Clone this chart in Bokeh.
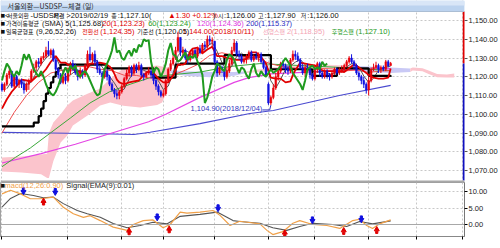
from bokeh.plotting import figure
from bokeh.models import Range1d, FixedTicker, NumeralTickFormatter, Label, Span, Grid
from bokeh.layouts import column
from bokeh.embed import file_html
from bokeh.resources import INLINE

# ---------------- data (trading-day index: 0 = 2018/06/25, 159 = 2019/02/19) ----------------
opens = [1116,1113,1116,1121,1123, 1115,1120,1116,1118,1116, 1113,1116,1118,1123,1125,
         1128,1127,1130,1131,1134, 1132,1134,1129,1124,1121, 1117,1120,
         1118,1123,1127,1125,1122, 1120,1123,1121,1126,1132, 1129,1132,1128,1124,1122,
         1120,1123,1120,1116,1113, 1111,1110,
         1112,1115,1119,1122,1125, 1122,1126,1124,1126,1121, 1120,1122,1123,1121,1118, 1115,1112,
         1110,1111,1118,1124,1127, 1130,1134,1141,1133,1134, 1130,1129,1132,1134,1131,
         1135,1133,1137,1136,1140, 1139,
         1139,1128,1122,1125,1124, 1120,1123,1127,1134,1138, 1132,1131,1128,1129,1131,
         1133,1129,1131,1130,1132, 1128,1125,
         1116,1106,1109,1114,1120, 1123,1127,1126,1124,1123, 1129,1132,1131,1129,1125,
         1122,1125,1124,1121,
         1119,1124,1127,1122,1120, 1123,1121,1120,1122,1124, 1122,1123,1124,1126,1128,
         1130,1128,1126,1122,1120, 1118,1116,
         1113,1118,1124,1125,1126, 1124,1125,1124,1128,1126]
closes = [1113,1116,1121,1123,1115, 1120,1116,1118,1116,1113, 1116,1118,1123,1125,1128,
          1127,1130,1131,1134,1132, 1134,1129,1124,1121,1117, 1120,1118,
          1123,1127,1125,1122,1120, 1123,1121,1126,1132,1129, 1132,1128,1124,1122,1120,
          1123,1120,1116,1113,1111, 1110,1112,
          1115,1119,1122,1125,1122, 1126,1124,1126,1121,1120, 1122,1123,1121,1118,1115, 1112,1110,
          1111,1118,1124,1127,1130, 1134,1141,1133,1134,1130, 1129,1132,1134,1131,1135,
          1133,1137,1136,1140,1139, 1139.5,
          1128,1122,1125,1124,1120, 1123,1127,1134,1138,1132, 1131,1128,1129,1131,1133,
          1129,1131,1130,1132,1128, 1125,1121,
          1106,1109,1114,1120,1123, 1127,1126,1124,1123,1129, 1132,1131,1129,1125,1122,
          1125,1124,1121,1119,
          1124,1127,1122,1120,1123, 1121,1120,1122,1124,1122, 1123,1124,1126,1128,1130,
          1128,1126,1122,1120,1118, 1116,1113,
          1118,1124,1125,1126,1124, 1125,1124,1128,1125.8,1127.1]
highs = [1117,1117,1122,1125,1123, 1121,1121,1119,1119,1118, 1117,1119,1124,1127,1129,
         1130,1131,1133,1136,1139, 1135,1135,1130,1125,1122, 1121,1122,
         1125,1128,1129,1127,1124, 1125,1124,1127,1134,1136, 1133,1134,1129,1126,1123,
         1124,1124,1121,1117,1114, 1113,1113,
         1116,1120,1124,1126,1126, 1127,1127,1128,1127,1122, 1123,1125,1124,1122,1119, 1116,1113,
         1113,1119,1125,1129,1132, 1136,1144,1141,1136,1135, 1132,1133,1135,1135,1136,
         1137,1138,1139,1142,1142, 1141,
         1139,1129,1126,1126,1125, 1125,1129,1136,1140,1139, 1134,1132,1131,1132,1134,
         1134,1132,1133,1133,1133, 1129,1126,
         1117,1110,1116,1122,1124, 1128,1129,1127,1126,1130, 1134,1134,1133,1130,1127,
         1126,1127,1125,1122,
         1126,1128,1128,1123,1124, 1124,1122,1123,1125,1125, 1125,1126,1127,1129,1131,
         1132,1129,1127,1123,1121, 1120,1117,
         1120,1125,1127,1128,1127, 1126,1126,1129,1129,1127.9]
lows = [1112,1112,1115,1119,1114, 1114,1115,1114,1114,1111, 1112,1113,1117,1122,1123,
        1125,1126,1129,1130,1131, 1130,1128,1123,1119,1116, 1116,1116,
        1117,1121,1123,1121,1118, 1119,1119,1120,1125,1128, 1127,1126,1122,1121,1118,
        1119,1118,1115,1112,1109, 1108,1108,
        1111,1114,1118,1120,1120, 1121,1122,1123,1120,1118, 1119,1121,1119,1116,1113, 1110,1109,
        1109,1110,1117,1123,1126, 1129,1133,1131,1131,1129, 1127,1128,1130,1130,1130,
        1132,1132,1134,1135,1137, 1136,
        1127,1120,1121,1122,1118, 1119,1122,1126,1133,1131, 1129,1127,1127,1127,1129,
        1128,1128,1129,1128,1127, 1124,1120,
        1105,1104.9,1108,1113,1118, 1122,1124,1122,1121,1122, 1128,1129,1128,1124,1121,
        1120,1123,1119,1118,
        1118,1122,1120,1119,1119, 1119,1118,1119,1121,1121, 1121,1122,1123,1125,1127,
        1127,1124,1121,1118,1116, 1114,1111,
        1110,1117,1123,1124,1122, 1122,1123,1123,1125,1126]

sma5_idx = list(range(2, 159, 2)) + [159]
sma5 = [1113.6,1117.6,1119,1117,1115.8,1117.2,1122,1126.6,1130,1132.2,1130.6,1125,1120,1121,1123,
        1123.4,1122.4,1126.2,1129.4,1127,1123.4,1120.2,1116.6,1112.4,1113.4,1118.6,1122.8,1124.6,
        1123.4,1122.4,1120.8,1117.8,1113.2,1115,1122,1131.2,1134.4,1133.4,1131.8,1132.2,1134,
        1136.2,1138.2,1133.6,1127.6,1122.8,1125.6,1130.8,1132.6,1130.2,1130,1130.8,1130,1127.2,
        1117.8,1114,1118.6,1124,1125.8,1127.8,1129.2,1126.4,1123.4,1122.6,1122.6,1123.2,1121.2,
        1122,1122.2,1123.8,1126.2,1127.6,1125.2,1120.4,1117,1119.2,1123.4,1124.8,1125.4,1125.68]
sma20_idx = list(range(0, 156, 5)) + [159]
sma20 = [1090,1101,1110,1117,1122,1123.6,1125.4,1125.5,1124.1,1123.2,1120.8,1120.7,1119.5,1119,
         1120.9,1123.5,1126.5,1131.4,1132.8,1131.3,1130.8,1129.3,1126.9,1125.3,1124.6,1123.1,
         1124.4,1124.2,1123.1,1123.6,1122.3,1123.1,1123.23]
sma60_idx = [0,5.5,11.6,19.8,28,36,44,52.4,60.6,68.8,81,93.3,105.5,121.8,138,159]
sma60 = [1072,1077,1082,1090,1098,1106,1112,1116,1119.5,1121,1122.5,1125.5,1127,1126,1125,1123.24]
sma120_idx = [0,16,30,45,60,67,81,95,101,110,125,140,159]
sma120 = [1074,1079,1084,1090,1096,1100,1109,1117,1119.5,1121.5,1122.5,1123.5,1124.36]
sma200_idx = [0,20,40,54,60.6,81,101.4,111,138,159]
sma200 = [1090.3,1090,1089.6,1089.2,1090.4,1095,1100.4,1102,1110,1115.37]

tenkan_idx = [0,2,4,6,8,10,12,14,16,18,20,22,24,26,28,30,32,34,36,38,40,42,44,45,46,47,48,
              50,52,54,56,58,60,62,64,66,68,70,72,74,75,76,77,78,
              80,82,84,86,88,90,92,94,96,98,100,102,104,106,108,110,112,114,116,118,119,
              120,122,124,126,128,130,132,134,136,138,140,142,144,146,148,150,152,154,156,158,159]
tenkan = [1103,1108,1112,1115,1118.5,1118,1117.5,1120,1121,1124,1128,1131,1127.5,1127.5,1125.5,
          1123,1122.5,1122.5,1127,1127,1127.5,1127,1125.5,1124,1121.5,1118.5,1117,
          1116,1117,1117.5,1118,1121,1123,1122,1119,1117,1117,1120.5,1126.5,1126.5,1127,1130.5,
          1133.5,1135,1135.5,1132.5,1134.5,1136,1131,1131,1130,1129.5,1129,1129,1129.5,1133,1133,
          1130.5,1127,1119.5,1119,1119,1117,1117.5,1121,1123.5,1127.5,1127,1126.5,1126,1124,1123,
          1123,1123,1123,1122.5,1124.5,1126.5,1125,1123,1121,1119.5,1119,1119,1119.5,1124.35]
kijun_idx = [0,13,15,16,17,18,19,20,21,22,23,24,43,62,71,73,91,110,127,137,150,159]
kijun = [1093.5,1095.5,1099,1103,1107,1111,1114,1117,1120,1122.5,1124.5,1126.5,1124.5,1119.5,
         1126.5,1127,1131.5,1124,1120.5,1124.5,1120.5,1120.05]
LAG = 26

# Ichimoku cloud (pink: span1 above span2, lavender: below)
pink1_idx = [0,8,16,18.5,19.2,21,24,26.7,29,35,40.2,44.3,49.6,56.5,63.5,65.5,67.5,69]
pink1_hi = [1077,1077.5,1078.5,1079,1090,1095.6,1100,1104.7,1107.3,1111,1113.7,1119,1124.4,
            1124.9,1126,1125.5,1124.9,1123.5]
pink1_lo = [1069.5,1069,1068,1066,1066,1075,1085,1088.7,1094,1099.3,1104.7,1106.3,1104.5,
            1103.6,1105,1106.3,1112,1122]
lav1_idx = [69,75,85,95,100]
lav1_hi = [1123.5,1123,1122.5,1122.5,1123]
lav1_lo = [1122,1120.5,1119.8,1120.5,1122]
pink2_idx = [100,110,120,130,142]
pink2_hi = [1123,1125,1126,1126.5,1126]
pink2_lo = [1122,1123,1124,1124.5,1124]
lav2_idx = [142,150,159,167]
lav2_hi = [1126,1125.5,1125,1124.4]
lav2_lo = [1124,1122.5,1122,1122.5]
pink3_idx = [167,168,172,174.5,178,182,185]
pink3_hi = [1124.4,1125,1124.5,1123.3,1121.5,1121.2,1121.7]
pink3_lo = [1122.5,1123.3,1123,1121.5,1119.8,1119.6,1119.6]

macd_idx = [0,3.5,7.6,11.6,15.7,21,25.1,29.2,33.3,36.1,40.2,45.5,51.2,53.7,57.8,61.8,65.9,68.8,
            72.9,75.7,81,86.3,89.2,93.3,97.3,105.5,108.4,110.8,114.9,119,121.8,127.1,132.9,138.2,
            143.5,146.3,149.2,151.6,154.5,159]
macd = [9.4,10.5,9.4,7.9,7.9,8.4,5.3,3.3,2.2,2.7,1.2,-0.8,-1.8,0,1.2,1.4,-1,0,3.8,3.5,3.8,4.3,
        2.8,-0.3,1.0,0.2,-1.8,-3.1,-2.2,0.4,1.2,0,-0.3,-1.2,1.2,1.6,-0.3,-1.2,0.2,1.4]
signal_idx = [0,3.5,7.6,12.9,16.9,21,25.1,30.8,34.9,40.2,45.5,51.2,56.5,61.8,67.6,72.9,81,88,
              94.5,97.3,105.5,110.8,116.5,121.8,127.1,135.3,141,146.3,151.6,159]
signal = [5.3,8,9.5,8.9,8.2,8.4,6.4,4.3,3.3,2.2,0.3,-1,-0.3,0.7,0.2,2.5,3.1,3.8,1.2,0.9,0.4,
          -1,-1.8,-0.6,0.4,0,-0.6,0.9,0.2,1.1]
sell_idx = [8.8,21.8,63.5,88.4,127,147]
sell_val = [10.0,9.8,2.0,4.8,1.1,1.4]
buy_idx = [17,52,68.4,115.7,139.8,153.3]
buy_val = [7.2,-1.9,-1.3,-2.5,-1.8,-1.5]

price_ticks = [1070,1080,1090,1100,1110,1120,1130,1140,1150]
macd_ticks = [0,5,10]
date_idx = [0,27,49,66,87,109,128,150,169.5,188.4]
date_labels = ["2018/06/25","08/01","09/03","10/01","11/01","12/03","2019","02/01","03/01","2019/03/18"]

# legend rows: (pixel x, row, text, colour, korean?)
legend = [
    (0, 0, "■<", "#111111", False), (6.5, 0, "서울외환", "#111111", True),
    (30, 0, "-USDSP-", "#111111", False), (53, 0, "체결", "#111111", True),
    (66, 0, ">2019/02/19", "#111111", False), (111, 0, "종", "#111111", True),
    (117.5, 0, ":1,127.10(", "#111111", False), (168, 0, "▲1.30 +0.12%", "#e00000", False),
    (213, 0, ")", "#111111", False), (218, 0, "시", "#111111", True),
    (224, 0, ":1,126.00", "#111111", False), (258, 0, "고", "#111111", True),
    (264.5, 0, ":1,127.90", "#111111", False), (301, 0, "저", "#111111", True),
    (307.5, 0, ":1,126.00", "#111111", False),
    (0, 1, "■", "#111111", False), (5.5, 1, "가격이동평균", "#111111", True),
    (41.5, 1, "(SMA) 5(1,125.68)", "#111111", False), (102, 1, "20(1,123.23)", "#e00000", False),
    (148, 1, "60(1,123.24)", "#229922", False), (197, 1, "120(1,124.36)", "#dd33dd", False),
    (246, 1, "200(1,115.37)", "#2a2ac0", False),
    (0, 2, "■", "#111111", False), (5.5, 2, "일목균형표", "#111111", True),
    (35.5, 2, "(9,26,52,26)", "#111111", False), (82, 2, "전환선", "#e00000", True),
    (100, 2, "(1,124.35)", "#e00000", False), (137, 2, "기준선", "#111111", True),
    (155, 2, "(1,120.05)", "#111111", False), (263, 2, "선행스팬", "#f4a3b4", True),
    (287, 2, "2(1,118.95)", "#f4a3b4", False), (332, 2, "후행스팬", "#229922", True),
    (356, 2, "(1,127.10)", "#229922", False),
]
legend_rows = [1152.6, 1148.5, 1144.4]
window_title = "서울외환—USDSP—체결 (일)"

# ---------------- styling ----------------
FONT = "'Liberation Sans', 'Noto Sans CJK KR', 'DejaVu Sans', sans-serif"
KFONT = "'Noto Sans CJK KR', sans-serif"
UP, DOWN = "#e8000b", "#1010e0"
X0, X1 = -0.6, 189.2
PX = 465 / (X1 - X0)          # pixels per trading day
xr = Range1d(X0, X1)

# main pane: 1,150 sits 20 px below the top, 1.875 px per won
PPW = 1.875
Y_TOP = 1150 + 20 / PPW          # top of the window (title bar)
Y_BAR = 1150 - (11 - 20) / PPW   # bottom of the title bar (top of the chart)
Y_BOT = 1150 - 160 / PPW         # bottom of the chart area
Y_SEP = 1150 - 162 / PPW         # bottom of the pane separator


def px2x(px):
    return X0 + px / PX


def py2y(py):
    return 1150 - (py - 20) / PPW


p1 = figure(width=500, height=182, x_range=xr, y_range=Range1d(Y_SEP, Y_TOP),
            output_backend="svg", toolbar_location=None, x_axis_location=None,
            y_axis_location="right", min_border_left=0, min_border_right=35,
            min_border_top=0, min_border_bottom=0, outline_line_color=None)
p1.yaxis.ticker = FixedTicker(ticks=price_ticks)
p1.yaxis.formatter = NumeralTickFormatter(format="0,0.00")
p1.yaxis.axis_line_color = None
p1.yaxis.major_tick_out = 3
p1.yaxis.major_tick_in = 0
p1.yaxis.major_tick_line_color = "#555555"
p1.yaxis.minor_tick_line_color = None
p1.yaxis.major_label_standoff = 1
p1.yaxis.major_label_text_font = FONT
p1.yaxis.major_label_text_font_size = "7.5px"
p1.yaxis.major_label_text_color = "#222222"
p1.grid.visible = False
p1.add_layout(Grid(dimension=1, ticker=FixedTicker(ticks=price_ticks),
                   grid_line_color="#c8c8c8", grid_line_dash="2 2"))
p1.add_layout(Grid(dimension=0, ticker=FixedTicker(ticks=date_idx),
                   grid_line_color="#c8c8c8", grid_line_dash="2 2"))

# cloud
for ix, lo, hi, col in [(pink1_idx, pink1_lo, pink1_hi, "#fbc4cc"),
                        (lav1_idx, lav1_lo, lav1_hi, "#c9c9f5"),
                        (pink2_idx, pink2_lo, pink2_hi, "#fbd0d6"),
                        (lav2_idx, lav2_lo, lav2_hi, "#c9c9f5"),
                        (pink3_idx, pink3_lo, pink3_hi, "#fbc4cc")]:
    p1.varea(x=ix, y1=lo, y2=hi, fill_color=col)

# moving averages
p1.line(sma200_idx, sma200, line_color="#4b4bd0", line_width=1.2)
p1.line(sma120_idx, sma120, line_color="#e445e4", line_width=1.2)
p1.line(sma60_idx, sma60, line_color="#3aa83a", line_width=1)
p1.line(sma20_idx, sma20, line_color="#f05050", line_width=1)
p1.line(sma5_idx, sma5, line_color="#555555", line_width=1)

# ichimoku lines
p1.step(kijun_idx, kijun, mode="after", line_color="#000000", line_width=2.2)
p1.line(tenkan_idx, tenkan, line_color="#e00000", line_width=1.8)

# candles
idx = list(range(len(closes)))
ccol = [UP if c >= o else DOWN for o, c in zip(opens, closes)]
p1.segment(x0=idx, y0=lows, x1=idx, y1=highs, line_color=ccol, line_width=1)
p1.vbar(x=idx, width=0.7, top=opens, bottom=closes, fill_color=ccol, line_color=ccol, line_width=0.5)

# lagging span (closes shifted back 26 periods)
p1.line(idx[:len(closes) - LAG], closes[LAG:], line_color="#1f9a1f", line_width=2)

# high / low markers
hi_i = highs.index(max(highs))
lo_i = lows.index(min(lows))
p1.add_layout(Label(x=hi_i + 2, y=max(highs), text="1,144.00(2018/10/11)", text_color="#e00000",
                    text_font=FONT, text_font_size="7.5px", text_baseline="middle"))
p1.line([lo_i - 3.5, lo_i - 0.5, lo_i], [min(lows) - 2.6, min(lows) - 2.6, min(lows)],
        line_color="#3030c0", line_width=1)
p1.add_layout(Label(x=lo_i - 3.5, y=min(lows) - 1.6, text="1,104.90(2018/12/04)", text_color="#3030c0",
                    text_font=FONT, text_font_size="7.5px", text_baseline="middle", text_align="right"))

# coloured price-axis line and last-price box
last = closes[-1]
p1.segment(x0=[X1 - 0.2, X1 - 0.2], y0=[last, last], x1=[X1 - 0.2, X1 - 0.2], y1=[Y_BAR, Y_BOT],
           line_color=["#e00000", "#1010c0"], line_width=2.5)
p1.add_layout(Label(x=X1, y=last, x_offset=2, text="1,127.10\n+0.12%", text_color="white",
                    background_fill_color="#e01010", text_font=FONT, text_font_size="7.5px",
                    text_baseline="middle", text_align="left", text_line_height=1.05))
p1.add_layout(Label(x=X1, y=py2y(18.5), x_offset=20, text="□×", text_color="#555555",
                    text_font="'DejaVu Sans', sans-serif", text_font_size="7px", text_baseline="middle"))

# chart border line under the title bar and pane separator
p1.line([X0, X1], [Y_BAR, Y_BAR], line_color="#9aa8b8", line_width=1)
p1.quad(left=[X0], right=[X1], bottom=[Y_SEP], top=[Y_BOT], fill_color="#a8a8a8", line_color=None)

# title bar across the top of the window (drawn last among the glyphs so it sits on top)
p1.quad(left=[X0], right=[X1], bottom=[Y_BAR], top=[Y_TOP], fill_color="#bcd3ef", line_color=None)
p1.quad(left=[X0], right=[X1], bottom=[py2y(5)], top=[Y_TOP], fill_color="#d9e6f7", line_color=None)
p1.add_layout(Label(x=px2x(7), y=py2y(5.5), text=window_title, text_color="#2a2a2a", text_font=KFONT,
                    text_font_size="7px", text_baseline="middle"))
p1.add_layout(Label(x=X1, y=py2y(5.5), x_offset=0, text="      □ ×", text_color="#1a2a50",
                    background_fill_color="#c8dbf2", text_font="'DejaVu Sans Mono', monospace",
                    text_font_size="7.5px", text_font_style="bold", text_baseline="middle",
                    text_line_height=1.45))
p1.add_layout(Label(x=X1, y=Y_BOT, x_offset=0, text="         ", background_fill_color="#a8a8a8",
                    text_font="'DejaVu Sans Mono', monospace", text_font_size="7.5px",
                    text_baseline="top", text_line_height=0.25))

# legend texts
for px, row, t, c, kr in legend:
    p1.add_layout(Label(x=px2x(px), y=legend_rows[row], text=t, text_color=c,
                        text_font=KFONT if kr else FONT,
                        text_font_size="6px" if kr else "7.5px", text_baseline="middle"))

# ---------------- MACD panel ----------------
p2 = figure(width=500, height=66, x_range=xr, y_range=Range1d(-3.68, 12.88),
            output_backend="svg", toolbar_location=None, y_axis_location="right",
            min_border_left=0, min_border_right=35, min_border_top=0, min_border_bottom=12,
            outline_line_color="#a0a0a0")
p2.yaxis.ticker = FixedTicker(ticks=macd_ticks)
p2.yaxis.formatter = NumeralTickFormatter(format="0,0.00")
p2.yaxis.axis_line_color = "#777777"
p2.yaxis.major_tick_out = 3
p2.yaxis.major_tick_in = 0
p2.yaxis.minor_tick_line_color = None
p2.yaxis.major_label_standoff = 1
p2.yaxis.major_label_text_font = FONT
p2.yaxis.major_label_text_font_size = "7.5px"
p2.yaxis.major_label_text_color = "#222222"
p2.xaxis.ticker = FixedTicker(ticks=date_idx)
p2.xaxis.major_label_overrides = {t: "" for t in date_idx}
p2.xaxis.major_label_text_font_size = "0px"
p2.xaxis.major_tick_out = 3
p2.xaxis.major_tick_in = 0
p2.xaxis.minor_tick_line_color = None
p2.xaxis.axis_line_color = "#888888"
p2.grid.visible = False
p2.add_layout(Grid(dimension=1, ticker=FixedTicker(ticks=[5, 10]),
                   grid_line_color="#c8c8c8", grid_line_dash="2 2"))
p2.add_layout(Grid(dimension=0, ticker=FixedTicker(ticks=date_idx),
                   grid_line_color="#c8c8c8", grid_line_dash="2 2"))
p2.add_layout(Span(location=0, dimension="width", line_color="#a8a8a8", line_width=1))

p2.line(signal_idx, signal, line_color="#555555", line_width=1.1)
p2.line(macd_idx, macd, line_color="#f0a048", line_width=1.2)

p2.scatter(sell_idx, [v + 0.9 for v in sell_val], marker="square", size=2.2, color="#1010e0")
p2.scatter(sell_idx, sell_val, marker="inverted_triangle", size=5, color="#1010e0")
p2.scatter(buy_idx, [v - 0.9 for v in buy_val], marker="square", size=2.2, color="#e00000")
p2.scatter(buy_idx, buy_val, marker="triangle", size=5, color="#e00000")

p2.add_layout(Label(x=px2x(0), y=11.9, text="■", text_color="#111111", text_font=FONT,
                    text_font_size="7.5px", text_baseline="middle"))
p2.add_layout(Label(x=px2x(4), y=11.9, text="macd(12,26:0.90)", text_color="#f0a048", text_font=FONT,
                    text_font_size="7.5px", text_baseline="middle"))
p2.add_layout(Label(x=px2x(66), y=11.9, text="Signal(EMA(9):0.01)", text_color="#222222", text_font=FONT,
                    text_font_size="7.5px", text_baseline="middle"))
p2.add_layout(Label(x=X1, y=12.2, x_offset=21, text="□×", text_color="#555555",
                    text_font="'DejaVu Sans', sans-serif", text_font_size="7px", text_baseline="middle"))

for x, t in zip(date_idx, date_labels):
    p2.add_layout(Label(x=x + 0.3, y=-3.68, y_offset=-1.5, text=t, text_color="#222222",
                        text_font=FONT, text_font_size="7.5px", text_baseline="top",
                        text_font_style="bold" if t == "2019" else "normal"))

layout = column(p1, p2, spacing=0)
open("out.html", "w").write(file_html(layout, INLINE))
